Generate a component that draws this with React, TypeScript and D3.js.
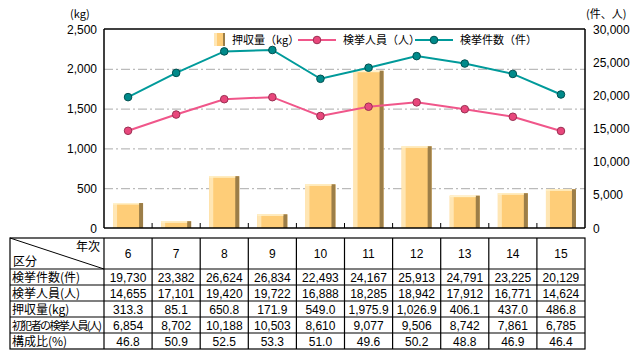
import React, { useRef, useEffect } from 'react';
import * as d3 from 'd3';

const years = ['6', '7', '8', '9', '10', '11', '12', '13', '14', '15'];
const cases = [19730, 23382, 26624, 26834, 22493, 24167, 25913, 24791, 23225, 20129];
const persons = [14655, 17101, 19420, 19722, 16888, 18285, 18942, 17912, 16771, 14624];
const seized = [313.3, 85.1, 650.8, 171.9, 549.0, 1975.9, 1026.9, 406.1, 437.0, 486.8];
const firstOffenders = [6854, 8702, 10188, 10503, 8610, 9077, 9506, 8742, 7861, 6785];
const ratio = [46.8, 50.9, 52.5, 53.3, 51.0, 49.6, 50.2, 48.8, 46.9, 46.4];

const leftTicks = [0, 500, 1000, 1500, 2000, 2500];
const rightTicks = [0, 5000, 10000, 15000, 20000, 25000, 30000];

const rowLabels = ['検挙件数(件)', '検挙人員(人)', '押収量(kg)', '初犯者の検挙人員(人)', '構成比(%)'];

const W = 642;
const H = 359;
const FONT = '"Noto Sans CJK JP", "Liberation Sans", sans-serif';
const NUM_FONT = '"Liberation Sans", Arial, sans-serif';

function App() {
  const svgRef = useRef<SVGSVGElement>(null);

  const plot = { left: 104, right: 585, top: 29, bottom: 228 };
  const tableTop = 238;
  const headerBottom = 269;
  const rowH = 16;
  const tableLeft = 10;

  const xCol = d3.scaleBand().domain(years).range([plot.left, plot.right]).padding(0);
  const xBar = d3.scaleBand().domain(years).range([plot.left, plot.right])
    .paddingInner(0.376).paddingOuter(0.188);
  const yLeft = d3.scaleLinear().domain([0, 2500]).range([plot.bottom, plot.top]);
  const yRight = d3.scaleLinear().domain([0, 30000]).range([plot.bottom, plot.top]);

  useEffect(() => {
    const svg = d3.select(svgRef.current);
    svg.selectAll('*').remove();
    svg.attr('font-family', FONT);

    // gridlines
    svg.append('g').selectAll('line').data(leftTicks.filter(t => t > 0 && t < 2500))
      .enter().append('line')
      .attr('x1', plot.left).attr('x2', plot.right)
      .attr('y1', d => yLeft(d) + 0.5).attr('y2', d => yLeft(d) + 0.5)
      .attr('stroke', '#aaaaaa').attr('stroke-width', 1)
      .attr('stroke-dasharray', '9,3,2,3');

    // bars
    const bars = svg.append('g').selectAll('g').data(years).enter().append('g');
    const bw = xBar.bandwidth();
    bars.append('rect')
      .attr('x', d => xBar(d)!).attr('width', bw)
      .attr('y', (d, i) => yLeft(seized[i]))
      .attr('height', (d, i) => plot.bottom - yLeft(seized[i]))
      .attr('fill', '#fecd78');
    bars.append('rect')
      .attr('x', d => xBar(d)!).attr('width', 4)
      .attr('y', (d, i) => yLeft(seized[i]))
      .attr('height', (d, i) => plot.bottom - yLeft(seized[i]))
      .attr('fill', '#ffe6b4');
    bars.append('rect')
      .attr('x', d => xBar(d)! + bw - 4).attr('width', 4)
      .attr('y', (d, i) => yLeft(seized[i]))
      .attr('height', (d, i) => plot.bottom - yLeft(seized[i]))
      .attr('fill', '#9c7e48');
    bars.append('rect')
      .attr('x', d => xBar(d)!).attr('width', bw - 4)
      .attr('y', (d, i) => yLeft(seized[i]))
      .attr('height', 1.5)
      .attr('fill', '#fff2cc');

    // axes frame
    const frame = svg.append('g').attr('stroke', '#000').attr('stroke-width', 1.5).attr('fill', 'none');
    frame.append('line').attr('x1', plot.left).attr('x2', plot.left).attr('y1', plot.top).attr('y2', plot.bottom);
    frame.append('line').attr('x1', plot.right).attr('x2', plot.right).attr('y1', plot.top).attr('y2', plot.bottom);
    frame.append('line').attr('x1', plot.left).attr('x2', plot.right).attr('y1', plot.top).attr('y2', plot.top);
    frame.append('line').attr('x1', plot.left).attr('x2', plot.right).attr('y1', plot.bottom).attr('y2', plot.bottom);
    frame.selectAll('.tk').data(years.slice(1)).enter().append('line')
      .attr('x1', d => xCol(d)!).attr('x2', d => xCol(d)!)
      .attr('y1', plot.bottom).attr('y2', plot.bottom - 5)
      .attr('stroke-width', 1);

    // lines
    const drawLine = (vals: number[], color: string, fill: string, stroke: string) => {
      const line = d3.line<number>()
        .x((d, i) => xCol(years[i])! + xCol.bandwidth() / 2)
        .y(d => yRight(d));
      svg.append('path').datum(vals).attr('d', line)
        .attr('fill', 'none').attr('stroke', color).attr('stroke-width', 2);
      svg.append('g').selectAll('circle').data(vals).enter().append('circle')
        .attr('cx', (d, i) => xCol(years[i])! + xCol.bandwidth() / 2)
        .attr('cy', d => yRight(d))
        .attr('r', 3.8)
        .attr('fill', fill).attr('stroke', stroke).attr('stroke-width', 1);
    };
    drawLine(persons, '#f0568a', '#e8477c', '#9a2f52');
    drawLine(cases, '#009a9a', '#008a8a', '#005050');

    // axis labels
    svg.append('g').attr('font-family', NUM_FONT).selectAll('text').data(leftTicks).enter().append('text')
      .attr('x', 97).attr('y', d => yLeft(d) + 4.5)
      .attr('text-anchor', 'end').attr('font-size', 12).attr('fill', '#000')
      .text(d => d3.format(',')(d));
    svg.append('g').attr('font-family', NUM_FONT).selectAll('text').data(rightTicks).enter().append('text')
      .attr('x', 593).attr('y', d => yRight(d) + 4.5)
      .attr('text-anchor', 'start').attr('font-size', 12).attr('fill', '#000')
      .text(d => d3.format(',')(d));
    svg.append('text').attr('x', 70).attr('y', 18).attr('font-size', 11).text('(kg)');
    svg.append('text').attr('x', 586).attr('y', 18).attr('font-size', 11).text('(件、人)');

    // legend
    const lg = svg.append('g').attr('font-size', 11);
    lg.append('rect').attr('x', 214).attr('y', 33).attr('width', 11).attr('height', 13).attr('fill', '#fecd78');
    lg.append('rect').attr('x', 214).attr('y', 33).attr('width', 3).attr('height', 13).attr('fill', '#ffe6b4');
    lg.append('rect').attr('x', 223).attr('y', 33).attr('width', 2).attr('height', 13).attr('fill', '#9c7e48');
    lg.append('text').attr('x', 232).attr('y', 44).text('押収量（kg）');
    lg.append('line').attr('x1', 298).attr('x2', 336).attr('y1', 40).attr('y2', 40).attr('stroke', '#f0568a').attr('stroke-width', 2);
    lg.append('circle').attr('cx', 317).attr('cy', 40).attr('r', 3.8).attr('fill', '#e8477c').attr('stroke', '#9a2f52');
    lg.append('text').attr('x', 343).attr('y', 44).text('検挙人員（人）');
    lg.append('line').attr('x1', 415).attr('x2', 453).attr('y1', 40).attr('y2', 40).attr('stroke', '#009a9a').attr('stroke-width', 2);
    lg.append('circle').attr('cx', 434).attr('cy', 40).attr('r', 3.8).attr('fill', '#008a8a').attr('stroke', '#005050');
    lg.append('text').attr('x', 460).attr('y', 44).text('検挙件数（件）');

    // table
    const rows = [cases, persons, seized, firstOffenders, ratio];
    const fmts = [d3.format(','), d3.format(','), d3.format(',.1f'), d3.format(','), d3.format('.1f')];
    const tableBottom = headerBottom + rowH * rows.length;
    const t = svg.append('g').attr('font-size', 12);
    const grid = t.append('g').attr('stroke', '#000').attr('stroke-width', 1.2);
    grid.append('rect').attr('x', tableLeft).attr('y', tableTop)
      .attr('width', plot.right - tableLeft).attr('height', tableBottom - tableTop).attr('fill', 'none');
    grid.selectAll('.v').data(years).enter().append('line')
      .attr('x1', d => xCol(d)!).attr('x2', d => xCol(d)!)
      .attr('y1', tableTop).attr('y2', tableBottom);
    grid.selectAll('.h').data(d3.range(rows.length)).enter().append('line')
      .attr('x1', tableLeft).attr('x2', plot.right)
      .attr('y1', i => headerBottom + i * rowH).attr('y2', i => headerBottom + i * rowH);
    grid.append('line').attr('x1', tableLeft).attr('y1', tableTop)
      .attr('x2', plot.left).attr('y2', headerBottom).attr('stroke-width', 1);

    t.append('text').attr('x', 100).attr('y', 251).attr('text-anchor', 'end').text('年次');
    t.append('text').attr('x', 13).attr('y', 266).text('区分');
    t.append('g').attr('font-family', NUM_FONT).selectAll('text').data(years).enter().append('text')
      .attr('x', d => xCol(d)! + xCol.bandwidth() / 2).attr('y', (tableTop + headerBottom) / 2 + 4.5)
      .attr('text-anchor', 'middle').text(d => d);
    rows.forEach((vals, r) => {
      const y = headerBottom + r * rowH + rowH / 2 + 4.5;
      t.append('text').attr('x', 12).attr('y', y)
        .attr('font-size', r === 3 ? 11 : 12)
        .attr('textLength', r === 3 ? 90 : null)
        .text(rowLabels[r]);
      t.append('g').attr('font-family', NUM_FONT).selectAll('text').data(vals).enter().append('text')
        .attr('x', (d, i) => xCol(years[i])! + xCol.bandwidth() / 2).attr('y', y)
        .attr('text-anchor', 'middle').text(d => fmts[r](d));
    });
  });

  return (
    <svg ref={svgRef} width={W} height={H}
      style={{ position: 'absolute', left: 0, top: 0, background: '#fff' }} />
  );
}

export default App;
